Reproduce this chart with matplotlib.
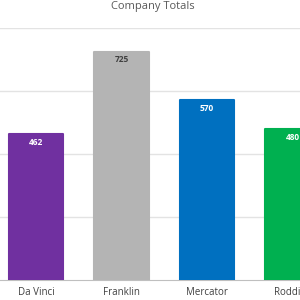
import matplotlib.pyplot as plt

companies = ['Da Vinci', 'Franklin', 'Mercator', 'Roddick']
totals = [462, 725, 570, 480]
colors = ['#7030a0', '#b4b4b4', '#0070c0', '#00b050']
label_colors = ['white', '#404040', 'white', 'white']

fig = plt.figure(figsize=(3, 3), dpi=100)
ax = fig.add_axes([0, 20 / 300, 1, 252 / 300])

x = range(len(companies))
bars = ax.bar(x, totals, width=0.64, color=colors, edgecolor=colors,
              linewidth=1.5, zorder=3)
for b in bars:
    b.set_joinstyle('round')
for i, v in enumerate(totals):
    ax.text(i, v - 12, str(v), ha='center', va='top', fontsize=6,
            fontweight='bold', color=label_colors[i], family='Open Sans', zorder=4)

ax.set_xlim(-36 / 85.5, 264 / 85.5)
ax.set_ylim(0, 800)
ax.set_yticks([200, 400, 600, 800])
ax.yaxis.grid(True, color='#e3e3e3', linewidth=1)
ax.set_axisbelow(True)
ax.tick_params(axis='y', left=False, labelleft=False)
ax.tick_params(axis='x', length=0, pad=5, labelsize=7, labelcolor='#404040')
ax.set_xticks(list(x))
ax.set_xticklabels(companies, family='Open Sans')
for s in ['top', 'left', 'right']:
    ax.spines[s].set_visible(False)
ax.spines['bottom'].set_color('#bfbfbf')

fig.text(153 / 300, 1 - 6 / 300, 'Company Totals', ha='center', va='center',
         fontsize=8, color='#595959', family='Open Sans')

fig.savefig('out.png', dpi=100)
